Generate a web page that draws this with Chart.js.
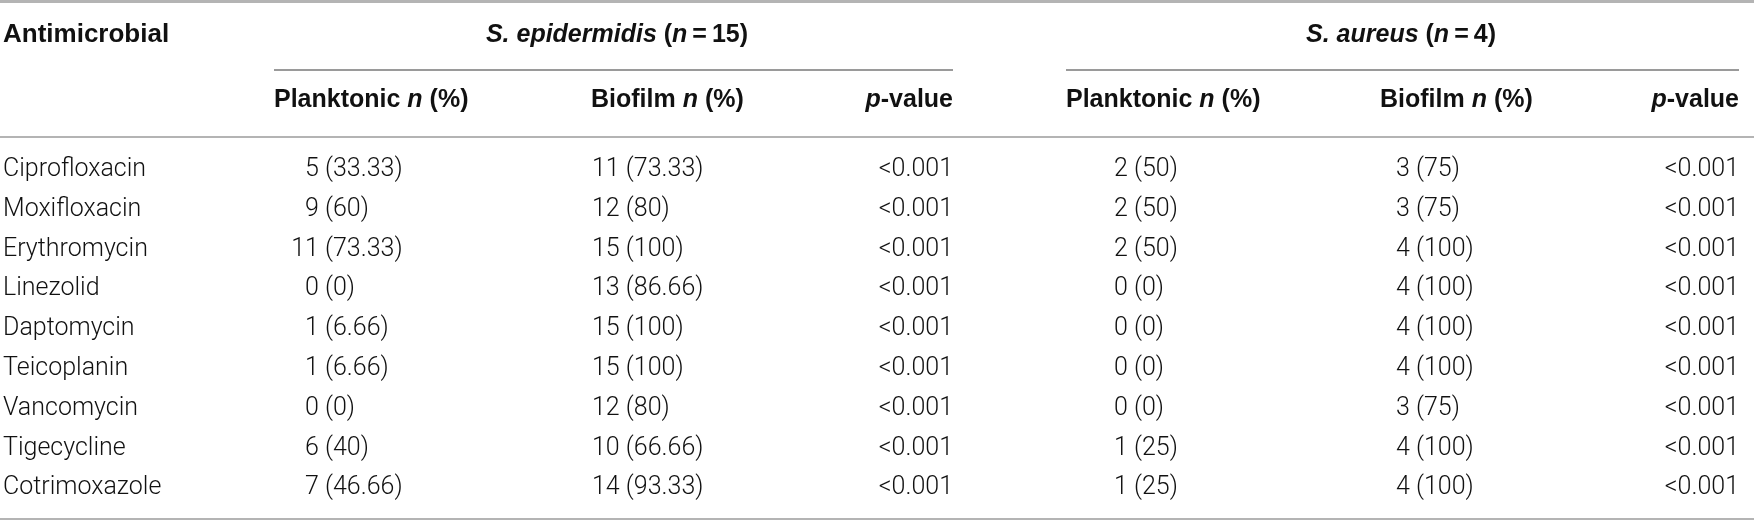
<!DOCTYPE html>
<html>
<head>
<meta charset="utf-8">
<script src="https://cdn.jsdelivr.net/npm/chart.js@4.4.0/dist/chart.umd.min.js"></script>
<style>
    html, body { margin: 0; padding: 0; background: #fff; }
    #wrap { width: 1754px; height: 525px; position: relative; }
</style>
</head>
<body>
<div id="wrap"><canvas id="tableChart"></canvas></div>
<script>
// Table data
const antimicrobials = ['Ciprofloxacin', 'Moxifloxacin', 'Erythromycin', 'Linezolid', 'Daptomycin',
    'Teicoplanin', 'Vancomycin', 'Tigecycline', 'Cotrimoxazole'];

const sePlanktonicN   = [5, 9, 11, 0, 1, 1, 0, 6, 7];
const sePlanktonicPct = ['33.33', '60', '73.33', '0', '6.66', '6.66', '0', '40', '46.66'];
const seBiofilmN      = [11, 12, 15, 13, 15, 15, 12, 10, 14];
const seBiofilmPct    = ['73.33', '80', '100', '86.66', '100', '100', '80', '66.66', '93.33'];
const sePValue        = ['<0.001', '<0.001', '<0.001', '<0.001', '<0.001', '<0.001', '<0.001', '<0.001', '<0.001'];

const saPlanktonicN   = [2, 2, 2, 0, 0, 0, 0, 1, 1];
const saPlanktonicPct = ['50', '50', '50', '0', '0', '0', '0', '25', '25'];
const saBiofilmN      = [3, 3, 4, 4, 4, 4, 3, 4, 4];
const saBiofilmPct    = ['75', '75', '100', '100', '100', '100', '75', '100', '100'];
const saPValue        = ['<0.001', '<0.001', '<0.001', '<0.001', '<0.001', '<0.001', '<0.001', '<0.001', '<0.001'];

// Fonts
const BODY = '300 25px Roboto, "Liberation Sans", sans-serif';
const HB = 'bold 25px "Liberation Sans", Arial, sans-serif';
const HI = 'italic bold 25px "Liberation Sans", Arial, sans-serif';
const HB_WIDE = 'bold 26px "Liberation Sans", Arial, sans-serif';
const TEXT = '#111';
const RULE = '#9a9a9a';
const RULE_LIGHT = '#b4b4b4';

// Column anchors (table pixels on the x scale)
const columns = [
    { kind: 'np', n: sePlanktonicN, pct: sePlanktonicPct, x: 305, digits: 1 },
    { kind: 'np', n: seBiofilmN, pct: seBiofilmPct, x: 592, digits: 2 },
    { kind: 'p', p: sePValue, x: 953 },
    { kind: 'np', n: saPlanktonicN, pct: saPlanktonicPct, x: 1114, digits: 1 },
    { kind: 'np', n: saBiofilmN, pct: saBiofilmPct, x: 1396, digits: 1 },
    { kind: 'p', p: saPValue, x: 1739 }
];

// Draw a line of mixed-style text
function drawRuns(ctx, runs, x, y, align) {
    let total = 0;
    runs.forEach(r => { ctx.font = r[1]; total += ctx.measureText(r[0]).width; });
    let cx = align === 'center' ? x - total / 2 : (align === 'right' ? x - total : x);
    ctx.textAlign = 'left';
    runs.forEach(r => {
        ctx.font = r[1];
        ctx.fillText(r[0], cx, y);
        cx += ctx.measureText(r[0]).width;
    });
}

function rule(ctx, x1, x2, y, w, color) {
    ctx.beginPath();
    ctx.lineWidth = w;
    ctx.strokeStyle = color;
    ctx.moveTo(x1, y);
    ctx.lineTo(x2, y);
    ctx.stroke();
}

const tablePlugin = {
    id: 'tablePlugin',
    afterDatasetsDraw(chart) {
        const ctx = chart.ctx;
        const xs = chart.scales.x;
        const ys = chart.scales.y;
        const px = v => xs.getPixelForValue(v);
        ctx.save();
        ctx.fillStyle = TEXT;
        ctx.textBaseline = 'middle';

        // rules
        rule(ctx, 0, chart.width, 1.5, 3, RULE_LIGHT);
        rule(ctx, px(274), px(953), 70, 2, RULE);
        rule(ctx, px(1066), px(1739), 70, 2, RULE);
        rule(ctx, 0, chart.width, 137, 2, RULE_LIGHT);
        rule(ctx, 0, chart.width, 519, 2, RULE_LIGHT);

        // header row 1
        drawRuns(ctx, [['Antimicrobial', HB_WIDE]], px(3), 35, 'left');
        drawRuns(ctx, [['S. epidermidis', HI], [' (', HB], ['n', HI], ['\u2009=\u200915)', HB]], px(617), 35, 'center');
        drawRuns(ctx, [['S. aureus', HI], [' (', HB], ['n', HI], ['\u2009=\u20094)', HB]], px(1401), 35, 'center');

        // header row 2
        const npHead = name => [[name + ' ', HB], ['n', HI], [' (%)', HB]];
        const pHead = [['p', HI], ['-value', HB]];
        drawRuns(ctx, npHead('Planktonic'), px(274), 100, 'left');
        drawRuns(ctx, npHead('Biofilm'), px(591), 100, 'left');
        drawRuns(ctx, pHead, px(953), 100, 'right');
        drawRuns(ctx, npHead('Planktonic'), px(1066), 100, 'left');
        drawRuns(ctx, npHead('Biofilm'), px(1380), 100, 'left');
        drawRuns(ctx, pHead, px(1739), 100, 'right');

        // row labels
        ctx.font = BODY;
        ctx.textAlign = 'left';
        antimicrobials.forEach((name, i) => {
            ctx.fillText(name, px(3), ys.getPixelForValue(i));
        });

        // cells, positioned by the library's point elements
        ctx.font = BODY;
        const digitW = ctx.measureText('0').width;
        chart.data.datasets.forEach((ds, di) => {
            const col = ds.column;
            chart.getDatasetMeta(di).data.forEach((pt, i) => {
                if (col.kind === 'p') {
                    ctx.textAlign = 'right';
                    ctx.fillText(col.p[i], pt.x, pt.y);
                } else {
                    const edge = pt.x + digitW * col.digits;
                    ctx.textAlign = 'right';
                    ctx.fillText(String(col.n[i]), edge, pt.y);
                    ctx.textAlign = 'left';
                    ctx.fillText(' (' + col.pct[i] + ')', edge, pt.y);
                }
            });
        });
        ctx.restore();
    }
};

const tableChart = new Chart(document.getElementById('tableChart'), {
    type: 'scatter',
    data: {
        datasets: columns.map(col => ({
            column: col,
            data: antimicrobials.map(name => ({ x: col.x, y: name })),
            pointRadius: 0,
            pointHoverRadius: 0,
            showLine: false
        }))
    },
    options: {
        responsive: true,
        maintainAspectRatio: false,
        animation: false,
        events: [],
        layout: { padding: { top: 150, bottom: 17, left: 0, right: 0 } },
        plugins: { legend: { display: false }, tooltip: { enabled: false } },
        scales: {
            x: { type: 'linear', min: 0, max: 1754, display: false },
            y: { type: 'category', labels: antimicrobials, offset: true, display: false }
        }
    },
    plugins: [tablePlugin]
});
</script>
</body>
</html>
